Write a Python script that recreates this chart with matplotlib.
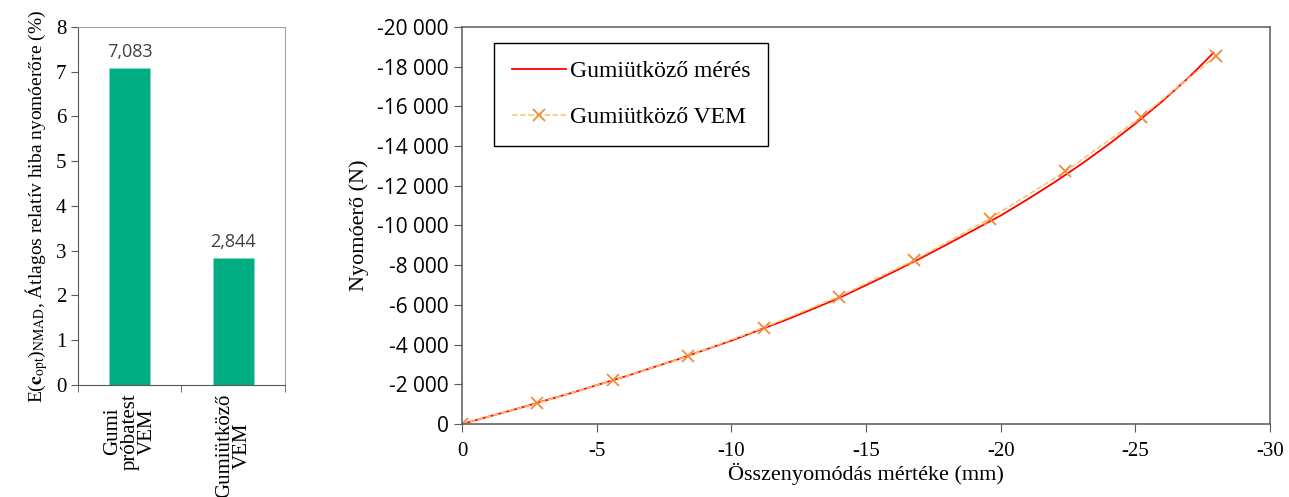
import numpy as np
import matplotlib
matplotlib.use('Agg')
import matplotlib.pyplot as plt
from matplotlib.ticker import FuncFormatter

plt.rcParams['axes.unicode_minus'] = False
plt.rcParams['mathtext.fontset'] = 'stix'

# --- left panel data ---
bar_labels = ['Gumi\npróbatest\nVEM', 'Gumiütköző\nVEM']
bar_values = [7.083, 2.844]

# --- right panel data ---
meres_x = [0, -2, -4, -6, -8, -10, -12, -13, -14, -15, -16, -17, -18, -19, -20,
           -21, -22, -23, -24, -25, -26, -27, -27.9]
meres_y = [0, -750, -1540, -2370, -3250, -4200, -5230, -5780, -6350, -6990, -7650,
           -8330, -9040, -9770, -10500, -11320, -12180, -13100, -14080, -15130,
           -16260, -17480, -18700]
vem_x = [0, -2.8, -5.6, -8.4, -11.2, -14, -16.8, -19.6, -22.4, -25.2, -28]
vem_y = [0, -1050, -2200, -3420, -4850, -6420, -8260, -10350, -12720, -15450, -18550]

serif = 'Liberation Serif'
sans = 'Open Sans'
spine_col = '#595959'

fig = plt.figure(figsize=(12.89, 4.97), dpi=100)

# ---------------- left: bar chart ----------------
ax1 = fig.add_axes([0.0605, 0.2254, 0.1606, 0.7203])
pos = np.arange(len(bar_values))
ax1.bar(pos, bar_values, width=0.4, color='#00AC81', edgecolor='#7fe0c8', linewidth=0.6)
for p, v in zip(pos, bar_values):
    ax1.text(p, v + 0.15, f'{v:.3f}'.replace('.', ','), ha='center', va='bottom',
             fontsize=13, color='#404040', family=sans)
ax1.set_xlim(-0.5, 1.5)
ax1.set_ylim(0, 8)
ax1.set_yticks(range(0, 9))
ax1.set_xticks(pos)
ax1.set_xticklabels(bar_labels, rotation=90, fontsize=15, family=serif, va='top',
                    linespacing=0.9)
ax1.set_xticks([-0.5, 0.5, 1.5], minor=True)
ax1.tick_params(axis='x', which='major', length=0, pad=6)
ax1.tick_params(axis='x', which='minor', length=5, direction='out', color=spine_col)
ax1.tick_params(axis='y', length=5, direction='out', color=spine_col, labelsize=15)
for lab in ax1.get_yticklabels():
    lab.set_family(serif)
for s in ax1.spines.values():
    s.set_color('#a0a0a0')
ax1.spines['left'].set_color(spine_col)
ax1.spines['bottom'].set_color(spine_col)
ax1.set_ylabel(r'E($\mathbf{c}_{\mathrm{opt}}$)$_{\mathrm{NMAD}}$, Átlagos relatív hiba nyomóerőre (%)',
               fontsize=14, family=serif, labelpad=4)

# ---------------- right: force vs compression ----------------
ax2 = fig.add_axes([0.3584, 0.1469, 0.6269, 0.7988])
ax2.plot(meres_x, meres_y, color='#FF0000', linewidth=1.3, label='Gumiütköző mérés')
ax2.plot(vem_x, vem_y, color='#FFC266', linestyle='--', linewidth=1.1,
         marker='x', markersize=9, markeredgecolor='#F28C3A', markeredgewidth=1.3,
         label='Gumiütköző VEM')
ax2.set_xlim(0, -30)
ax2.set_ylim(0, -20000)
ax2.set_xticks(range(0, -31, -5))
ax2.set_yticks(range(0, -20001, -2000))
ax2.yaxis.set_major_formatter(FuncFormatter(lambda v, p: f'{v:,.0f}'.replace(',', ' ')))
ax2.tick_params(axis='x', length=6, direction='out', color=spine_col, labelsize=15, pad=7)
ax2.tick_params(axis='y', length=6, direction='out', color=spine_col, labelsize=15)
for lab in ax2.get_xticklabels():
    lab.set_family(serif)
for lab in ax2.get_yticklabels():
    lab.set_family(sans)
for s in ax2.spines.values():
    s.set_color(spine_col)
    s.set_linewidth(1.1)
ax2.set_xlabel('Összenyomódás mértéke (mm)', fontsize=16, family=serif, labelpad=1)
ax2.set_ylabel('Nyomóerő (N)', fontsize=16, family=serif, labelpad=6)

leg = ax2.legend(loc='upper left', bbox_to_anchor=(0.04, 0.96), fancybox=False,
                 edgecolor='black', framealpha=1, prop={'family': serif, 'size': 17},
                 handlelength=2.3, handletextpad=0.15, labelspacing=1.05,
                 borderpad=0.75, borderaxespad=0)
leg.get_frame().set_linewidth(1.0)

fig.savefig('out.png', dpi=100)
